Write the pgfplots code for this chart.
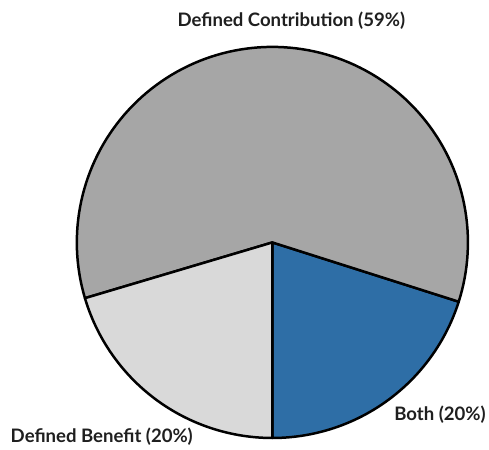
\documentclass[border=0pt]{standalone}
\usepackage{pgfplots}
\pgfplotsset{compat=1.18}
\usepackage{fontspec}
\setmainfont{Lato}

\definecolor{dcgray}{HTML}{A6A6A6}
\definecolor{bothblue}{HTML}{2E6EA6}
\definecolor{dbgray}{HTML}{D9D9D9}

% shares of plans (percent)
\def\vBoth{20.1}
\def\vDC{59.5}
\def\vDB{20.4}

\begin{document}
\begin{tikzpicture}
\pgfmathsetmacro{\aA}{-90}
\pgfmathsetmacro{\aB}{\aA+3.6*\vBoth}
\pgfmathsetmacro{\aC}{\aB+3.6*\vDC}
\pgfmathsetmacro{\aD}{\aC+3.6*\vDB}
\def\cx{273}\def\cy{206}\def\rr{196}
\begin{axis}[
  scale only axis, width=489pt, height=449pt,
  xmin=0, xmax=489, ymin=0, ymax=449,
  hide axis, clip=false,
]
% keep the full canvas as the picture's extent
\path (axis cs:0,0) rectangle (axis cs:489,449);
\addplot[fill=bothblue, draw=black, line width=2.5pt, line join=round,
  domain=\aA:\aB, samples=60, variable=\t]
  ({\cx+\rr*cos(\t)},{\cy+\rr*sin(\t)}) -- (axis cs:\cx,\cy) -- cycle;
\addplot[fill=dcgray, draw=black, line width=2.5pt, line join=round,
  domain=\aB:\aC, samples=120, variable=\t]
  ({\cx+\rr*cos(\t)},{\cy+\rr*sin(\t)}) -- (axis cs:\cx,\cy) -- cycle;
\addplot[fill=dbgray, draw=black, line width=2.5pt, line join=round,
  domain=\aC:\aD, samples=60, variable=\t]
  ({\cx+\rr*cos(\t)},{\cy+\rr*sin(\t)}) -- (axis cs:\cx,\cy) -- cycle;

\node[font=\bfseries\fontsize{18.6}{20}\selectfont, text=black!88]
  at (axis cs:292,428) {Defined Contribution (59\%)};
\node[font=\bfseries\fontsize{18.6}{20}\selectfont, text=black!88]
  at (axis cs:441,33) {Both (20\%)};
\node[font=\bfseries\fontsize{18.6}{20}\selectfont, text=black!88]
  at (axis cs:102,11) {Defined Benefit (20\%)};
\end{axis}
\end{tikzpicture}
\end{document}
